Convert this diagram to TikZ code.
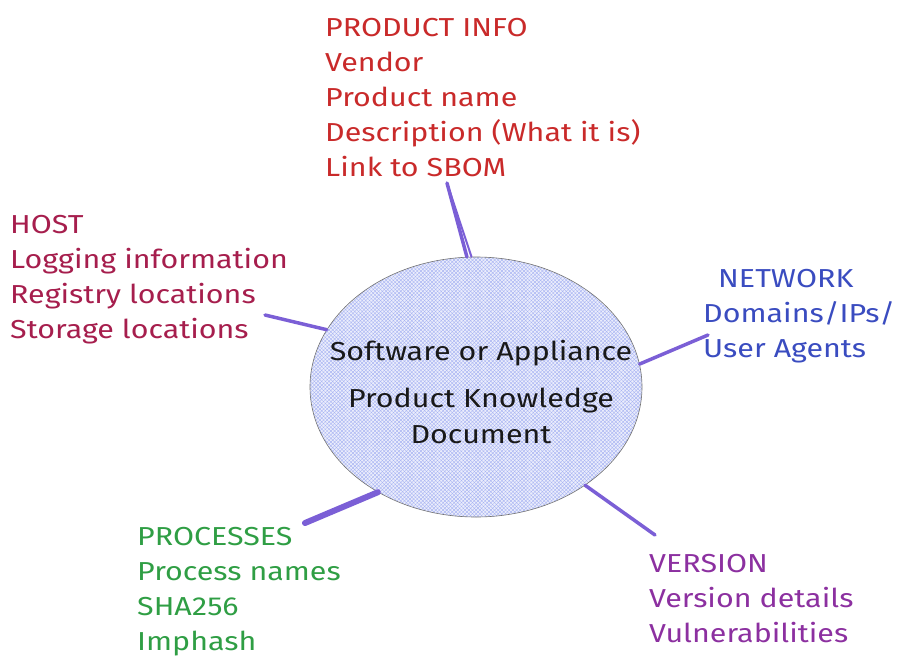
\documentclass[tikz,border=0pt]{standalone}
\usepackage{fontspec}
\setmainfont{Fira Sans}[FakeStretch=1.17]
\usepackage{xcolor}
\usetikzlibrary{shapes.geometric, patterns.meta}
\definecolor{infored}{RGB}{201,42,42}
\definecolor{hostpink}{RGB}{166,30,77}
\definecolor{netblue}{RGB}{58,76,192}
\definecolor{procgreen}{RGB}{47,158,68}
\definecolor{verpurple}{RGB}{140,48,160}
\definecolor{linkviolet}{RGB}{123,95,214}
\definecolor{hatchblue}{RGB}{110,130,235}

\tikzset{
  grouptext/.style={anchor=north west, inner sep=0pt, align=left,
    font=\fontsize{26}{35}\selectfont},
  docshape/.style={ellipse, draw=black!55, line width=0.6pt,
    minimum width=332pt, minimum height=260pt, inner sep=0pt,
    preaction={fill=hatchblue!14},
    preaction={pattern={Lines[angle=45,distance=2.6pt,line width=0.35pt]}, pattern color=hatchblue!65},
    preaction={pattern={Lines[angle=-45,distance=2.6pt,line width=0.35pt]}, pattern color=hatchblue!65}},
  link/.style={linkviolet, line width=3.5pt, line cap=round}
}

\begin{document}
\begin{tikzpicture}[x=1pt, y=-1pt]
  \useasboundingbox (0,0) rectangle (897,670);

  % central document
  \node[docshape] (doc) at (476,387) {};
  \node[align=center, inner sep=0pt, font=\fontsize{26}{36}\selectfont, text=black!90] (title) at (481,392)
    {Software or Appliance\\[11pt]Product Knowledge\\Document};

  % the five groups
  \node[grouptext, text=infored] (info) at (325,18)
    {PRODUCT INFO\\Vendor\\Product name\\Description (What it is)\\Link to SBOM};
  \node[grouptext, text=hostpink] (host) at (10,215)
    {HOST\\Logging information\\Registry locations\\Storage locations};
  \node[grouptext, text=netblue] (net) at (703,269)
    {\hspace*{15pt}NETWORK\\Domains/IPs/\\User Agents};
  \node[grouptext, text=procgreen] (proc) at (137,527)
    {PROCESSES\\Process names\\SHA256\\Imphash};
  \node[grouptext, text=verpurple] (ver) at (649,554)
    {VERSION\\Version details\\Vulnerabilities};

  % free ends of the links
  \coordinate (infoend) at (447,183);
  \coordinate (hostend) at (265,315);
  \coordinate (netend) at (708,335);
  \coordinate (procend) at (305,523);
  \coordinate (verend) at (655,535);

  \draw[link] (infoend) -- (doc.94);
  \draw[link, line width=2pt] (infoend) -- (doc.92);
  \draw[link] (hostend) -- (doc.159);
  \draw[link] (netend) -- (doc.8.6);
  \draw[link, line width=6pt] (procend) -- (doc.227);
  \draw[link] (verend) -- (doc.318);
\end{tikzpicture}
\end{document}
